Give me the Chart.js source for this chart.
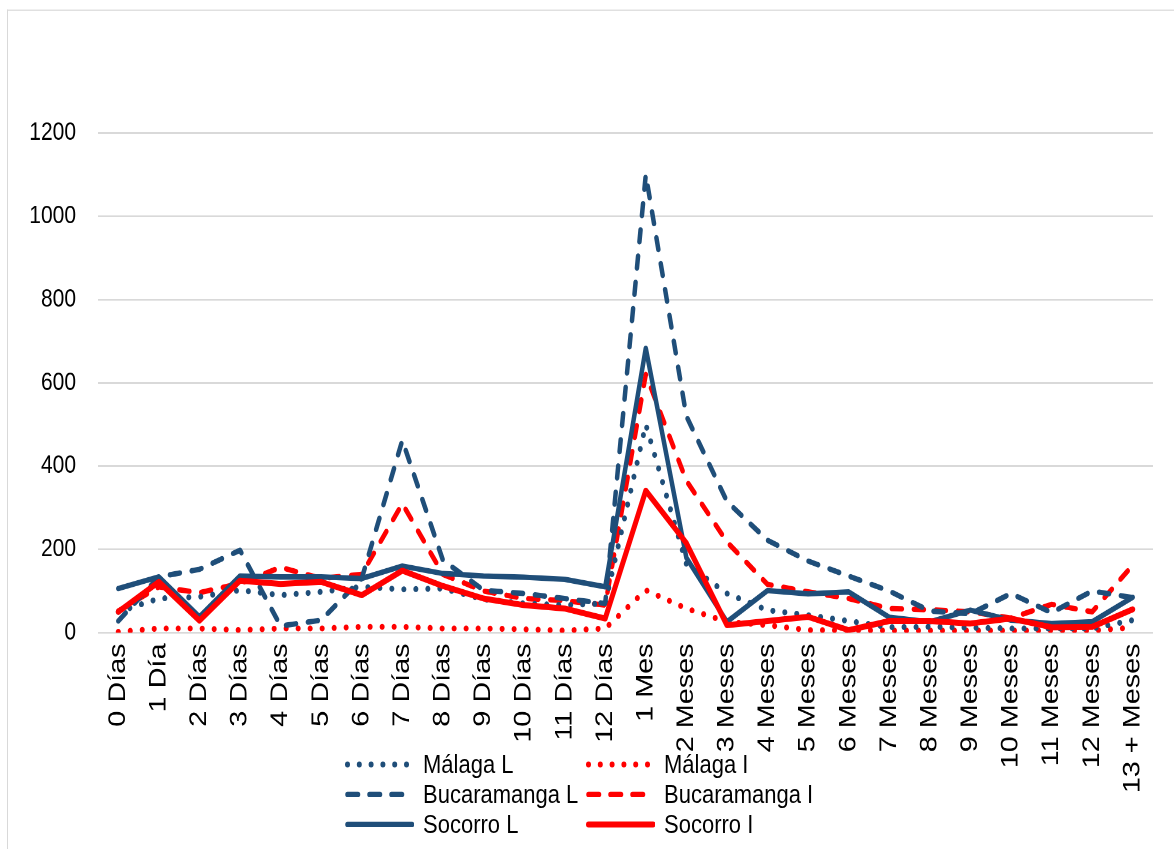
<!DOCTYPE html>
<html>
<head>
<meta charset="utf-8">
<script src="https://cdn.jsdelivr.net/npm/chart.js@4.4.1/dist/chart.umd.min.js"></script>
<style>
  html, body { margin: 0; padding: 0; background: #fff; overflow: hidden; }
  /* the reference is stretched vertically, so the whole drawing is too */
  #wrap { position: absolute; left: 0; top: 0; width: 1174px; height: 708px; transform: scaleY(1.2); transform-origin: 0 0; }
  #frame { position: absolute; left: 7px; top: 8px; width: 1200px; height: 800px; border-left: 1px solid #d9d9d9; border-top: 1px solid #d9d9d9; }
  #c { position: absolute; left: 0; top: 0; }
  .leg { position: absolute; height: 26px; display: flex; align-items: center; font-family: 'Liberation Sans', Arial, sans-serif; font-size: 22px; color: #000; white-space: nowrap; }
  .leg svg { margin-right: 9px; }
</style>
</head>
<body>
<div id="wrap">
  <div id="frame"></div>
  <canvas id="c" width="1174" height="708"></canvas>
  <div id="legend"></div>
</div>
<script>
// === DATA ===
const labels = ['0 Días','1 Día','2 Días','3 Días','4 Días','5 Días','6 Días','7 Días','8 Días','9 Días','10 Días','11 Días','12 Días',
    '1 Mes','2 Meses','3 Meses','4 Meses','5 Meses','6 Meses','7 Meses','8 Meses','9 Meses','10 Meses','11 Meses','12 Meses','13 + Meses'];

const malagaL      = [50, 82, 86, 102, 90, 98, 110, 104, 106, 80, 70, 66, 70, 500, 165, 94, 54, 42, 28, 13, 14, 12, 10, 10, 10, 30];
const malagaI      = [2, 10, 10, 6, 10, 10, 14, 14, 10, 10, 8, 5, 10, 102, 58, 26, 18, 6, 6, 5, 5, 5, 5, 5, 5, 12];
const bucaramangaL = [28, 134, 152, 198, 16, 30, 130, 462, 174, 102, 94, 82, 70, 1100, 520, 315, 222, 172, 136, 100, 52, 45, 94, 48, 100, 84];
const bucaramangaI = [52, 110, 96, 118, 157, 130, 140, 310, 140, 100, 82, 77, 66, 620, 365, 218, 116, 98, 82, 58, 55, 50, 35, 68, 50, 162];
const socorroL     = [106, 134, 38, 136, 134, 134, 130, 160, 142, 136, 133, 128, 110, 683, 180, 26, 101, 93, 98, 37, 26, 54, 30, 22, 26, 85];
const socorroI     = [50, 122, 29, 125, 117, 122, 90, 149, 112, 82, 66, 58, 34, 341, 215, 18, 28, 38, 6, 28, 28, 22, 34, 13, 14, 56];

const yTicks = [0, 200, 400, 600, 800, 1000, 1200];

// === STYLE ===
const blue = '#1F4E79', red = '#FF0000';
const DOT = [0.001, 12], DASH = [10, 12], SOLID = [];

const series = [
    { label: 'Málaga L',      data: malagaL,      color: blue, dash: DOT,   width: 5,   order: 3, col: 0, row: 0 },
    { label: 'Málaga I',      data: malagaI,      color: red,  dash: DOT,   width: 5,   order: 5, col: 1, row: 0 },
    { label: 'Bucaramanga L', data: bucaramangaL, color: blue, dash: DASH,  width: 4.5, order: 2, col: 0, row: 1 },
    { label: 'Bucaramanga I', data: bucaramangaI, color: red,  dash: DASH,  width: 4.5, order: 4, col: 1, row: 1 },
    { label: 'Socorro L',     data: socorroL,     color: blue, dash: SOLID, width: 4.5, order: 1, col: 0, row: 2 },
    { label: 'Socorro I',     data: socorroI,     color: red,  dash: SOLID, width: 5,   order: 0, col: 1, row: 2 }
];

const FONT = "'Liberation Sans', Arial, sans-serif";

// === CHART ===
new Chart(document.getElementById('c'), {
    type: 'line',
    data: {
        labels: labels,
        datasets: series.map(s => ({
            label: s.label, data: s.data, order: s.order,
            borderColor: s.color, backgroundColor: s.color,
            borderWidth: s.width, borderDash: s.dash, borderCapStyle: 'round', borderJoinStyle: 'round',
            pointRadius: 0, pointHoverRadius: 0, tension: 0, fill: false
        }))
    },
    options: {
        responsive: false, animation: false, devicePixelRatio: 2,
        layout: { padding: { top: 110.8, right: 21, left: 0, bottom: 0 } },
        plugins: { legend: { display: false }, tooltip: { enabled: false } },
        scales: {
            x: {
                offset: true,
                grid: { display: false, drawTicks: false },
                border: { display: false },
                ticks: { color: '#000', font: { family: FONT, size: 24 }, minRotation: 90, maxRotation: 90, padding: 9, autoSkip: false },
                afterFit: s => { s.height = 708 - 527.2; }
            },
            y: {
                min: 0, max: 1200,
                afterBuildTicks: s => { s.ticks = yTicks.map(v => ({ value: v })); },
                grid: { color: '#d9d9d9', lineWidth: 1.5, drawTicks: false },
                border: { display: false },
                ticks: { color: '#000', font: { family: FONT, size: 21 }, padding: 22, callback: v => String(v) },
                afterFit: s => { s.width = 98; }
            }
        }
    }
});

// === LEGEND ===
const legend = document.getElementById('legend');
const colX = [345, 586], rowY = [637, 662, 687];
series.forEach(s => {
    const item = document.createElement('div');
    item.className = 'leg';
    item.style.left = colX[s.col] + 'px';
    item.style.top = (rowY[s.row] - 13) + 'px';
    let dash = '';
    if (s.dash === DOT) dash = 'stroke-dasharray="0.001 11.8"';
    else if (s.dash === DASH) dash = 'stroke-dasharray="10.5 11.5"';
    item.innerHTML = `<svg width="69" height="12"><line x1="2.5" y1="6" x2="${s.dash === SOLID ? 67 : 66}" y2="6" stroke="${s.color}" stroke-width="${s.width}" stroke-linecap="round" ${dash}/></svg>`;
    const txt = document.createElement('span');
    txt.textContent = s.label;
    item.appendChild(txt);
    legend.appendChild(item);
});
</script>
</body>
</html>
